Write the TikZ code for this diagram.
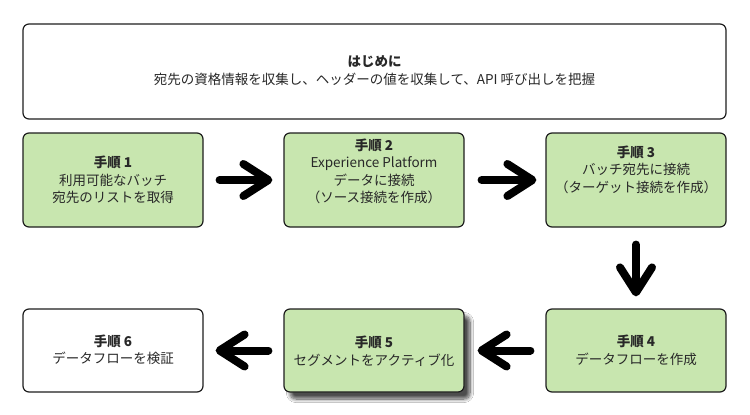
\documentclass[tikz,border=0pt]{standalone}
\usepackage{fontspec}
\setmainfont{Noto Sans CJK JP}
\usetikzlibrary{arrows.meta,shadows.blur}
\definecolor{boxgreen}{RGB}{200,230,175}
\definecolor{txt}{RGB}{40,40,40}
\definecolor{edge}{RGB}{30,30,30}
\tikzset{
  stepbox/.style={draw=edge, line width=1.2pt, rounded corners=6pt, minimum width=180pt, inner sep=0pt},
  greenbox/.style={stepbox, fill=boxgreen},
  whitebox/.style={stepbox, fill=white},
  rowone/.style={minimum height=94pt},
  rowtwo/.style={minimum height=83pt},
  label/.style={text=txt, align=center, font=\fontsize{13.5pt}{17.5pt}\selectfont, inner sep=0pt},
  bigarrow/.style={line width=8pt, line cap=round, black,
    -{Straight Barb[length=25pt, width=32pt, round]}, shorten <=15pt, shorten >=11pt},
}
\begin{document}
\begin{tikzpicture}[x=1pt,y=-1pt]
\useasboundingbox (0,0) rectangle (750,415);
\fill[white] (0,0) rectangle (750,415);
% intro box
\node[whitebox, minimum width=703pt, minimum height=95pt] (intro) at (374.5,71.5) {};
\node[label] (introtxt) at (374.5,70.5) {\textbf{はじめに}\\宛先の資格情報を収集し、ヘッダーの値を収集して、API 呼び出しを把握};
% row one
\node[greenbox, rowone] (s1) at (113,180) {};
\node[greenbox, rowone] (s2) at (374,180) {};
\node[greenbox, rowone] (s3) at (636,180) {};
\node[label] (t1) at (113,180) {\textbf{手順 1}\\利用可能なバッチ\\宛先のリストを取得};
\node[label] (t2) at (374,171.5) {\textbf{手順 2}\\Experience Platform\\データに接続\\（ソース接続を作成）};
\node[label] (t3) at (636,169.5) {\textbf{手順 3}\\バッチ宛先に接続\\（ターゲット接続を作成）};
% row two
\node[greenbox, rowtwo] (s4) at (636,350.5) {};
\node[greenbox, rowtwo, blur shadow={shadow xshift=6pt, shadow yshift=-7pt, shadow blur steps=10, shadow blur radius=3.5pt, shadow opacity=70}] (s5) at (374,350.5) {};
\node[whitebox, rowtwo] (s6) at (113,350.5) {};
\node[label] (t4) at (636,350.5) {\textbf{手順 4}\\データフローを作成};
\node[label] (t5) at (374,351) {\textbf{手順 5}\\セグメントをアクティブ化};
\node[label] (t6) at (113,350) {\textbf{手順 6}\\データフローを検証};
% arrows
\draw[bigarrow, shorten <=16pt, shorten >=11pt] (s1) -- (s2);
\draw[bigarrow, shorten <=17pt, shorten >=9pt] (s2) -- (s3);
\draw[bigarrow, shorten <=17pt, shorten >=12pt] (s3) -- (s4);
\draw[bigarrow, shorten <=15pt, shorten >=13pt] (s4) -- (s5);
\draw[bigarrow, shorten <=15pt, shorten >=12pt] (s5) -- (s6);
\end{tikzpicture}
\end{document}
